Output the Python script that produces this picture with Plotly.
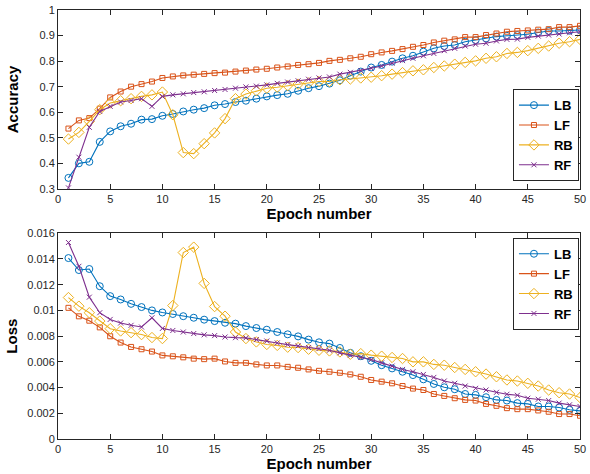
import plotly.graph_objects as go

epochs = list(range(1, 51))

acc_lb = [0.343, 0.400, 0.406, 0.484, 0.525, 0.545, 0.555, 0.571, 0.573, 0.586,
          0.593, 0.603, 0.610, 0.616, 0.627, 0.632, 0.640, 0.645, 0.653, 0.662,
          0.667, 0.672, 0.684, 0.694, 0.702, 0.712, 0.725, 0.743, 0.759, 0.775,
          0.785, 0.798, 0.811, 0.821, 0.837, 0.850, 0.859, 0.863, 0.876, 0.882,
          0.889, 0.896, 0.899, 0.902, 0.905, 0.912, 0.918, 0.918, 0.919, 0.922]
acc_lf = [0.536, 0.568, 0.577, 0.614, 0.658, 0.681, 0.700, 0.710, 0.720, 0.734,
          0.740, 0.744, 0.747, 0.750, 0.753, 0.755, 0.759, 0.763, 0.767, 0.770,
          0.775, 0.779, 0.785, 0.788, 0.793, 0.801, 0.805, 0.811, 0.817, 0.827,
          0.834, 0.840, 0.847, 0.856, 0.863, 0.873, 0.880, 0.885, 0.894, 0.894,
          0.902, 0.908, 0.915, 0.918, 0.920, 0.923, 0.925, 0.933, 0.933, 0.938]
acc_rb = [0.495, 0.521, 0.564, 0.610, 0.636, 0.645, 0.653, 0.662, 0.668, 0.679,
          0.590, 0.442, 0.438, 0.477, 0.519, 0.575, 0.653, 0.671, 0.684, 0.694,
          0.698, 0.704, 0.710, 0.715, 0.720, 0.720, 0.727, 0.730, 0.734, 0.737,
          0.743, 0.749, 0.755, 0.762, 0.766, 0.775, 0.781, 0.788, 0.795, 0.801,
          0.811, 0.817, 0.830, 0.834, 0.841, 0.850, 0.859, 0.870, 0.876, 0.885]
acc_rf = [0.304, 0.424, 0.541, 0.603, 0.623, 0.640, 0.646, 0.653, 0.623, 0.662,
          0.668, 0.672, 0.677, 0.680, 0.685, 0.689, 0.694, 0.699, 0.702, 0.707,
          0.713, 0.718, 0.723, 0.729, 0.734, 0.738, 0.749, 0.756, 0.763, 0.772,
          0.781, 0.792, 0.802, 0.811, 0.821, 0.830, 0.841, 0.850, 0.859, 0.866,
          0.870, 0.879, 0.885, 0.886, 0.893, 0.898, 0.902, 0.906, 0.911, 0.915]

loss_lb = [0.01407, 0.01314, 0.01322, 0.01188, 0.01111, 0.01085, 0.01051, 0.01026, 0.01000, 0.00984,
           0.00972, 0.00955, 0.00943, 0.00928, 0.00917, 0.00904, 0.00897, 0.00878, 0.00863, 0.00850,
           0.00832, 0.00814, 0.00798, 0.00773, 0.00752, 0.00742, 0.00708, 0.00670, 0.00644, 0.00608,
           0.00574, 0.00549, 0.00523, 0.00497, 0.00464, 0.00428, 0.00402, 0.00387, 0.00350, 0.00343,
           0.00325, 0.00304, 0.00299, 0.00279, 0.00273, 0.00253, 0.00253, 0.00245, 0.00227, 0.00219]
loss_lf = [0.01020, 0.00954, 0.00920, 0.00868, 0.00799, 0.00750, 0.00716, 0.00698, 0.00680, 0.00650,
           0.00643, 0.00635, 0.00625, 0.00621, 0.00625, 0.00603, 0.00592, 0.00592, 0.00580, 0.00572,
           0.00572, 0.00561, 0.00554, 0.00541, 0.00530, 0.00523, 0.00515, 0.00502, 0.00484, 0.00459,
           0.00446, 0.00433, 0.00412, 0.00392, 0.00381, 0.00350, 0.00335, 0.00317, 0.00304, 0.00299,
           0.00273, 0.00258, 0.00240, 0.00232, 0.00232, 0.00222, 0.00212, 0.00194, 0.00194, 0.00181]
loss_rb = [0.01100, 0.01033, 0.00982, 0.00917, 0.00858, 0.00840, 0.00827, 0.00812, 0.00789, 0.00781,
           0.01038, 0.01450, 0.01492, 0.01210, 0.01030, 0.00955, 0.00832, 0.00781, 0.00755, 0.00735,
           0.00728, 0.00714, 0.00711, 0.00698, 0.00690, 0.00685, 0.00677, 0.00659, 0.00664, 0.00652,
           0.00644, 0.00634, 0.00626, 0.00600, 0.00600, 0.00580, 0.00574, 0.00556, 0.00541, 0.00523,
           0.00505, 0.00484, 0.00459, 0.00451, 0.00433, 0.00412, 0.00381, 0.00360, 0.00350, 0.00322]
loss_rf = [0.01528, 0.01343, 0.01103, 0.00982, 0.00930, 0.00902, 0.00884, 0.00871, 0.00943, 0.00860,
           0.00844, 0.00832, 0.00820, 0.00810, 0.00804, 0.00793, 0.00788, 0.00786, 0.00773, 0.00762,
           0.00747, 0.00734, 0.00724, 0.00711, 0.00703, 0.00690, 0.00670, 0.00652, 0.00634, 0.00618,
           0.00592, 0.00567, 0.00541, 0.00523, 0.00502, 0.00479, 0.00451, 0.00433, 0.00412, 0.00394,
           0.00381, 0.00363, 0.00348, 0.00340, 0.00317, 0.00309, 0.00299, 0.00279, 0.00266, 0.00253]

names = ["LB", "LF", "RB", "RF"]
colors = ["#0072BD", "#D95319", "#EDB120", "#7E2F8E"]
symbols = ["circle-open", "square-open", "diamond-open", "x-thin-open"]
sizes = [7, 5, 8, 5]

acc_ticks = [0.3, 0.4, 0.5, 0.6, 0.7, 0.8, 0.9, 1.0]
acc_labels = ["0.3", "0.4", "0.5", "0.6", "0.7", "0.8", "0.9", "1"]
loss_ticks = [0, 0.002, 0.004, 0.006, 0.008, 0.01, 0.012, 0.014, 0.016]
loss_labels = ["0", "0.002", "0.004", "0.006", "0.008", "0.01", "0.012", "0.014", "0.016"]
epoch_ticks = [0, 5, 10, 15, 20, 25, 30, 35, 40, 45, 50]

fig = go.Figure()

for i, ys in enumerate([acc_lb, acc_lf, acc_rb, acc_rf]):
    fig.add_trace(go.Scatter(
        x=epochs, y=ys, name=names[i], mode="lines+markers",
        line=dict(color=colors[i], width=1.1),
        marker=dict(symbol=symbols[i], size=sizes[i], color=colors[i],
                    line=dict(color=colors[i], width=1)),
        xaxis="x", yaxis="y", legend="legend"))

for i, ys in enumerate([loss_lb, loss_lf, loss_rb, loss_rf]):
    fig.add_trace(go.Scatter(
        x=epochs, y=ys, name=names[i], mode="lines+markers",
        line=dict(color=colors[i], width=1.1),
        marker=dict(symbol=symbols[i], size=sizes[i], color=colors[i],
                    line=dict(color=colors[i], width=1)),
        xaxis="x2", yaxis="y2", legend="legend2"))

tick_font = dict(family="Liberation Sans, Arial, sans-serif", size=11, color="#262626")
title_font = dict(family="Liberation Sans, Arial, sans-serif", size=15, color="#000000",
                  weight="bold")

axis_common = dict(showline=True, linecolor="#262626", linewidth=1, mirror="allticks",
                   ticks="inside", ticklen=5, tickcolor="#262626", tickwidth=1,
                   showgrid=False, zeroline=False, tickfont=tick_font,
                   ticklabeloverflow="allow")

legend_common = dict(bordercolor="#262626", borderwidth=1, bgcolor="white",
                     font=dict(family="Liberation Sans, Arial, sans-serif", size=13,
                               color="#000000", weight="bold"),
                     xanchor="right", itemwidth=30, tracegroupgap=0)

fig.update_layout(
    width=590, height=474,
    margin=dict(l=58, r=4, t=8, b=35),
    paper_bgcolor="white", plot_bgcolor="white",
    xaxis=dict(domain=[0, 1], anchor="y", range=[0, 50], tickvals=epoch_ticks,
               title=dict(text="Epoch number", font=title_font, standoff=4), **axis_common),
    yaxis=dict(domain=[0.583, 1.0], anchor="x", range=[0.3, 1.0], tickvals=acc_ticks,
               ticktext=acc_labels,
               title=dict(text="Accuracy", font=title_font, standoff=17), **axis_common),
    xaxis2=dict(domain=[0, 1], anchor="y2", range=[0, 50], tickvals=epoch_ticks,
                title=dict(text="Epoch number", font=title_font, standoff=4), **axis_common),
    yaxis2=dict(domain=[0, 0.4796], anchor="x2", range=[0, 0.016], tickvals=loss_ticks,
                ticktext=loss_labels,
                title=dict(text="Loss", font=title_font, standoff=6), **axis_common),
    legend=dict(x=0.998, y=0.601, yanchor="bottom", **legend_common),
    legend2=dict(x=0.998, y=0.469, yanchor="top", **legend_common),
)

fig.write_html("out.html")
